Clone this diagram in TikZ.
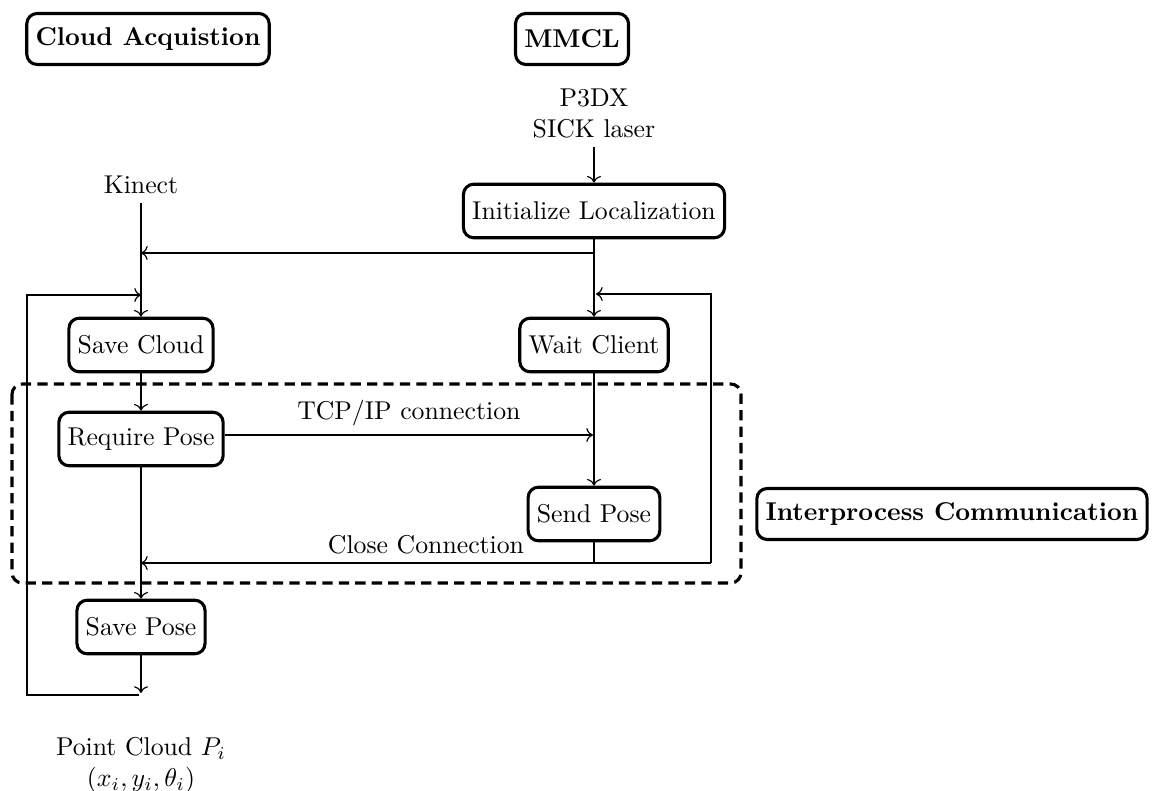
\documentclass[tikz,border=0pt]{standalone}
\usetikzlibrary{arrows.meta}
\begin{document}
\begin{tikzpicture}[x=0.3883pt,y=-0.3883pt,
  box/.style={draw,line width=1.2pt,rounded corners=4pt,minimum height=20.8pt,inner xsep=3.4pt},
  titlebox/.style={box,font=\bfseries,minimum height=19.8pt},
  plain/.style={inner sep=3.33pt,align=center},
  conn/.style={line width=0.45pt},
  arr/.style={conn,->},
  region/.style={line width=1.2pt,dash pattern=on 4pt off 2.4pt,rounded corners=4pt}]
\useasboundingbox (0,0) rectangle (1152,791);

% section titles
\node[titlebox] (tCloud) at (148,39) {Cloud Acquistion};
\node[titlebox] (tMMCL) at (572,39) {MMCL};
\node[titlebox] (tIPC) at (952,514) {Interprocess Communication};

% inputs and output
\node[plain,anchor=south] (sensor) at (594,147) {P3DX\\SICK laser};
\node[plain,anchor=south] (kinect) at (141,203) {Kinect};
\node[plain,anchor=north] (output) at (141,728) {Point Cloud $P_i$\\$(x_i,y_i,\theta_i)$};

% process steps
\node[box] (init) at (594,211) {Initialize Localization};
\node[box] (saveCloud) at (141,345) {Save Cloud};
\node[box] (waitClient) at (594,345) {Wait Client};
\node[box] (requirePose) at (141,439) {Require Pose};
\node[box] (sendPose) at (594,514) {Send Pose};
\node[box] (savePose) at (141,627) {Save Pose};

% routing points
\coordinate (startJ) at (594,253);
\coordinate (startK) at (141,253);
\coordinate (loopOut) at (141,693);
\coordinate (loopB) at (139,695);
\coordinate (loopBL) at (27,695);
\coordinate (loopTL) at (27,295);
\coordinate (loopT) at (141,295);
\coordinate (tcpEnd) at (593,435);
\coordinate (sendEnd) at (594,563);
\coordinate (retB) at (711,563);
\coordinate (retT) at (711,294);
\coordinate (retW) at (596,294);
\coordinate (closeEnd) at (141,563);

% MMCL column
\draw[arr] (sensor.south) -- (init.north);
\draw[arr] (init.south) -- (waitClient.north);
\draw[arr] (startJ) -- (startK);
\draw[arr] (waitClient.south) -- (sendPose.north);
\draw[conn] (sendPose.south) -- (sendEnd);
\draw[arr] (retB) -- (retT) -- (retW);
\draw[arr] (retB) -- node[above,plain] {Close Connection} (closeEnd);

% acquisition column
\draw[arr] (kinect.south) -- (saveCloud.north);
\draw[arr] (saveCloud.south) -- (requirePose.north);
\draw[arr] (requirePose.east |- tcpEnd) -- node[above,plain] {TCP/IP connection} (tcpEnd);
\draw[arr] (requirePose.south) -- (savePose.north);
\draw[arr] (savePose.south) -- (loopOut);
\draw[arr] (loopB) -- (loopBL) -- (loopTL) -- (loopT);

% interprocess communication region
\draw[region] (12,384) rectangle (741,583);
\end{tikzpicture}
\end{document}
